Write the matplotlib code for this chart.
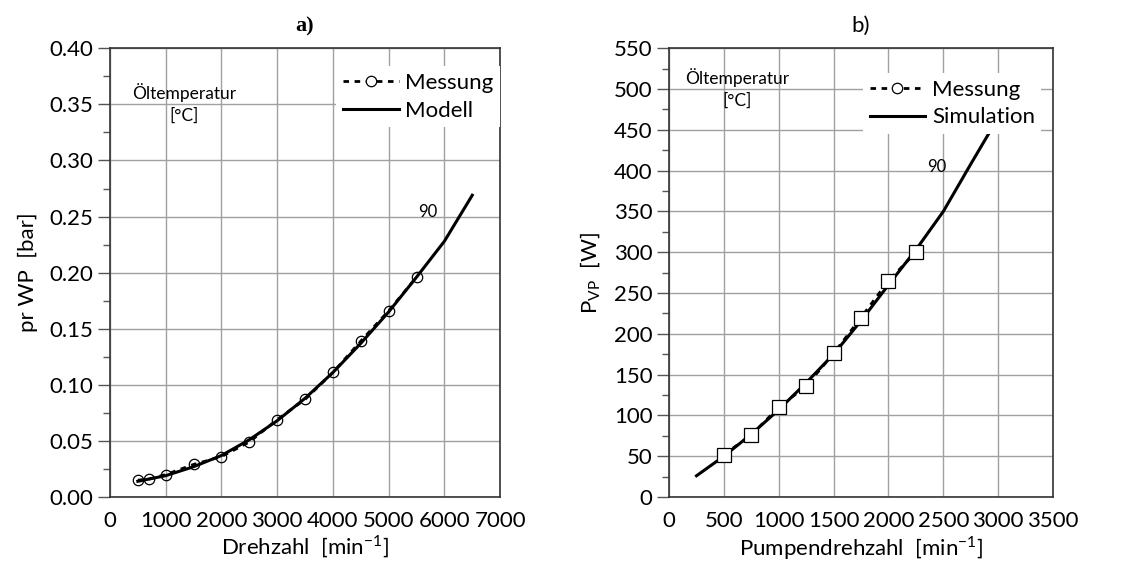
import matplotlib
matplotlib.use("Agg")
import matplotlib.pyplot as plt
import numpy as np

# ---- data: panel a ----
mess_a_x = [500, 700, 1000, 1500, 2000, 2500, 3000, 3500, 4000, 4500, 5000, 5500]
mess_a_y = [0.015, 0.016, 0.020, 0.029, 0.036, 0.049, 0.069, 0.087, 0.111, 0.139, 0.166, 0.196]
mod_a_x = [500, 1000, 1500, 2000, 2500, 3000, 3500, 4000, 4500, 5000, 5500, 6000, 6500]
mod_a_y = [0.014, 0.019, 0.027, 0.037, 0.051, 0.068, 0.088, 0.111, 0.137, 0.165, 0.196, 0.228, 0.269]

# ---- data: panel b ----
mess_b_x = [500, 750, 1000, 1250, 1500, 1750, 2000, 2250]
mess_b_y = [52, 76, 110, 136, 176, 220, 265, 300]
sim_b_x = [250, 500, 750, 1000, 1250, 1500, 1750, 2000, 2250, 2500, 2750, 3000]
sim_b_y = [26, 50, 77, 107, 140, 175, 216, 260, 303, 350, 408, 465]

xticks_a = [0, 1000, 2000, 3000, 4000, 5000, 6000, 7000]
yticks_a = [0.00, 0.05, 0.10, 0.15, 0.20, 0.25, 0.30, 0.35, 0.40]
xticks_b = [0, 500, 1000, 1500, 2000, 2500, 3000, 3500]
yticks_b = [0, 50, 100, 150, 200, 250, 300, 350, 400, 450, 500, 550]

plt.rcParams['font.family'] = ['Lato', 'DejaVu Sans']

fig = plt.figure(figsize=(11.29, 5.68), dpi=100)
ax1 = fig.add_axes([0.0974, 0.125, 0.3456, 0.790])
ax2 = fig.add_axes([0.5926, 0.125, 0.3401, 0.790])

def style(ax, xt, yt, yfmt):
    ax.set_xlim(xt[0], xt[-1])
    ax.set_ylim(yt[0], yt[-1])
    ax.set_xticks(xt)
    ax.set_yticks(yt)
    ax.set_yticklabels([yfmt.format(v) for v in yt])
    ax.set_yticks([(yt[i] + yt[i + 1]) / 2 for i in range(len(yt) - 1)], minor=True)
    ax.grid(True, which='major', color='#a0a0a0', linewidth=1.0)
    ax.set_axisbelow(True)
    ax.tick_params(axis='y', which='major', length=9, width=1, color='#555555', labelsize=16, pad=3)
    ax.tick_params(axis='y', which='minor', length=5, width=1, color='#555555')
    ax.tick_params(axis='x', which='major', length=0, labelsize=16, pad=10)
    for s in ax.spines.values():
        s.set_color('#333333')
        s.set_linewidth(1.2)

leg_kw = dict(loc='upper right', frameon=True, fontsize=16, handlelength=2.5,
              handletextpad=0.3, borderpad=0.3, labelspacing=0.35,
              fancybox=False, framealpha=1.0, borderaxespad=0)

# panel a
ax1.plot(mess_a_x, mess_a_y, linestyle=(0, (2, 2)), color='black', linewidth=2.0,
         marker='o', markersize=7.5, markerfacecolor='none', markeredgecolor='black',
         markeredgewidth=0.9, zorder=3)
ax1.plot(mod_a_x, mod_a_y, color='black', linewidth=2.2, zorder=4)
ax1.plot([], [], linestyle=(0, (2, 2)), color='black', linewidth=2.0, marker='o', markersize=7.5,
         markerfacecolor='white', markeredgecolor='black', markeredgewidth=0.9, label='Messung')
ax1.plot([], [], color='black', linewidth=2.2, label='Modell')
style(ax1, xticks_a, yticks_a, '{:.2f}')
ax1.set_xlabel('Drehzahl  [min$^{\\mathregular{-1}}$]', fontsize=16, labelpad=2)
ax1.set_ylabel('pr WP  [bar]', fontsize=16, labelpad=8)
ax1.set_title('a)', fontsize=16, family='Liberation Serif', fontweight='bold', pad=12)
ax1.text(0.19, 0.902, 'Öltemperatur', transform=ax1.transAxes, fontsize=12.5, ha='center', va='center')
ax1.text(0.19, 0.85, '[°C]', transform=ax1.transAxes, fontsize=12.5, ha='center', va='center')
ax1.text(5710, 0.254, '90', fontsize=12, ha='center', va='center')
leg1 = ax1.legend(bbox_to_anchor=(1.0, 0.96), **leg_kw)
leg1.get_frame().set_edgecolor('none')
leg1.set_zorder(10)

# panel b
ax2.plot(mess_b_x, mess_b_y, linestyle=(0, (2, 2)), color='black', linewidth=2.0,
         marker='s', markersize=9.5, markerfacecolor='white', markeredgecolor='black',
         markeredgewidth=0.9, zorder=5)
ax2.plot(sim_b_x, sim_b_y, color='black', linewidth=2.2, zorder=4)
ax2.plot([], [], linestyle=(0, (2, 2)), color='black', linewidth=2.0, marker='o', markersize=7.5,
         markerfacecolor='white', markeredgecolor='black', markeredgewidth=0.9, label='Messung')
ax2.plot([], [], color='black', linewidth=2.2, label='Simulation')
style(ax2, xticks_b, yticks_b, '{:d}')
ax2.set_xlabel('Pumpendrehzahl  [min$^{\\mathregular{-1}}$]', fontsize=16, labelpad=2)
ax2.set_ylabel('P$_{\\mathregular{VP}}$  [W]', fontsize=16, labelpad=8)
ax2.set_title('b)', fontsize=16, pad=12)
ax2.text(0.177, 0.935, 'Öltemperatur', transform=ax2.transAxes, fontsize=12.5, ha='center', va='center')
ax2.text(0.177, 0.884, '[°C]', transform=ax2.transAxes, fontsize=12.5, ha='center', va='center')
ax2.text(2440, 404, '90', fontsize=12, ha='center', va='center')
leg2 = ax2.legend(bbox_to_anchor=(0.97, 0.945), **leg_kw)
leg2.get_frame().set_edgecolor('none')
leg2.set_zorder(10)

fig.savefig('out.png', dpi=100)
